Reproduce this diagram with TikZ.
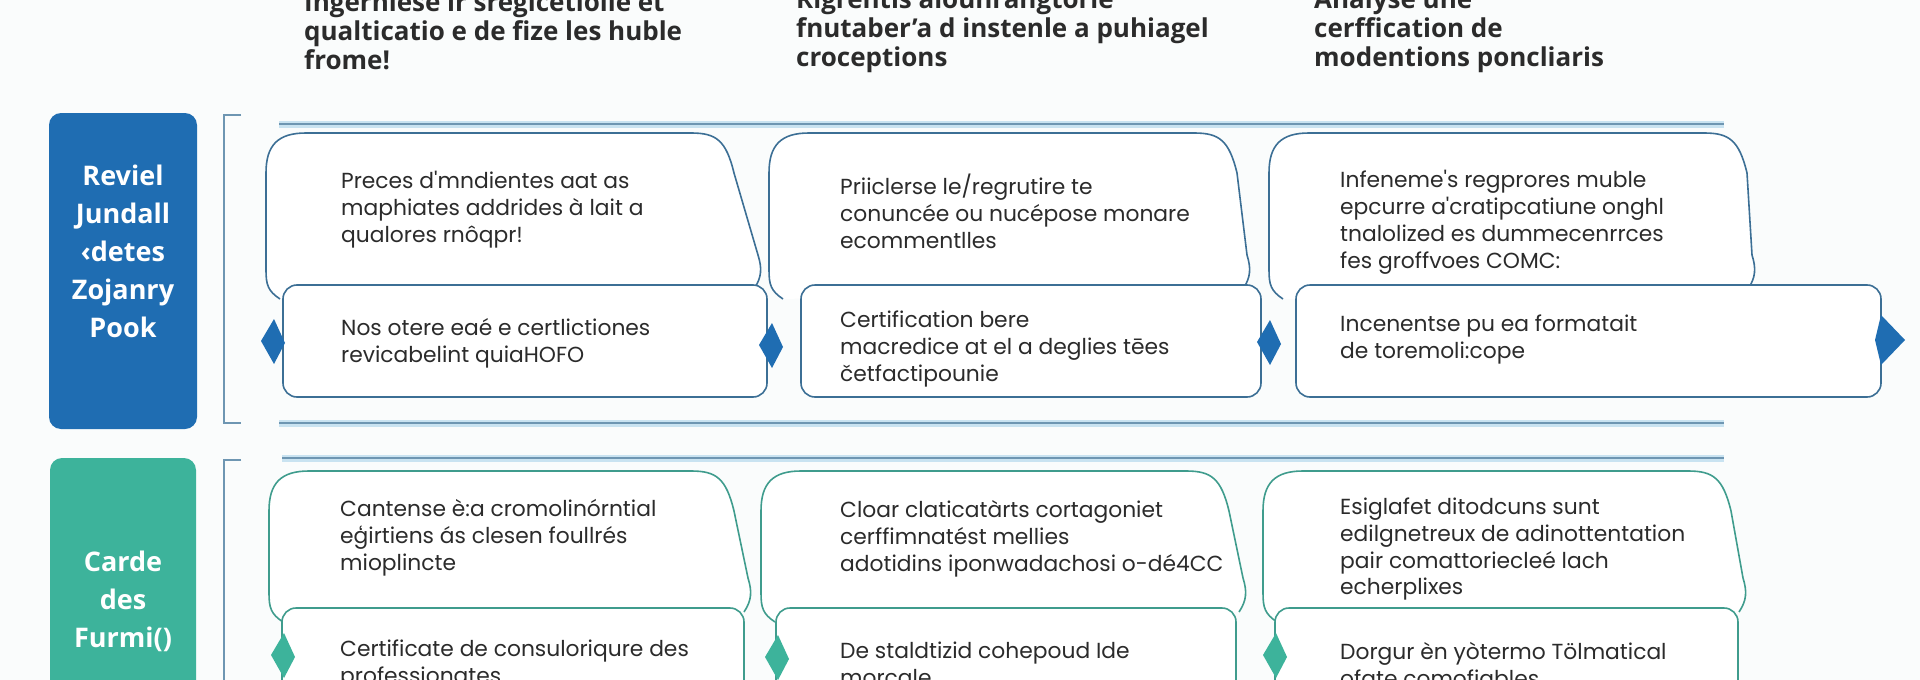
\documentclass[tikz,border=0pt]{standalone}
\usepackage{fontspec}
\setmainfont{Open Sans}
\newfontfamily\kartenfont{Poppins}
\usetikzlibrary{calc}
\definecolor{blau}{HTML}{1F6DB2}
\definecolor{blaud}{HTML}{3C6F95}
\definecolor{blauh}{HTML}{C9E3F1}
\definecolor{tuerkis}{HTML}{3DB39B}
\definecolor{tuerkisd}{HTML}{3F9C8D}
\definecolor{grau}{HTML}{2B2B2B}
\definecolor{leist}{HTML}{6E96B2}
\definecolor{papier}{HTML}{FAFCFC}
\tikzset{
  kopf/.style={anchor=west,align=left,inner sep=0pt,text=grau,font=\fontsize{26}{29}\selectfont\bfseries},
  schild/.style={fill=#1,rounded corners=12pt},
  schildtext/.style={align=center,text=white,font=\fontsize{27}{38}\selectfont\bfseries},
  schrift/.style={anchor=west,align=left,inner sep=0pt,text=grau,font=\kartenfont\fontsize{21.8}{27}\selectfont},
  karte/.style={draw=#1,line width=1.6pt,fill=white},
  leiste/.style={draw=leist,line width=2.6pt,preaction={draw=blauh,line width=7pt}},
  klammer/.style={leist,line width=2pt},
  marke/.style={fill=#1},
}
\begin{document}
\begin{tikzpicture}[x=1pt,y=-1pt]
  \useasboundingbox (0,0) rectangle (1920,680);
  \fill[papier] (0,0) rectangle (1920,680);
  \node[kopf] (h1) at (304,31) {Ingerniese ir sregicetioile et\\qualticatio e de fize les huble\\frome!};
  \node[kopf] (h2) at (796,31) {Rigrentis aiouhrangtorie\\fnutaber'a d instenle a puhiagel\\croceptions};
  \node[kopf] (h3) at (1314,31) {Analyse une\\cerffication de\\modentions poncliaris};
  \fill[schild=blau] (49,113) rectangle (197,429);
  \fill[schild=tuerkis] (50,458) rectangle (196,720);
  \node[schildtext] (r1) at (123,251) {Reviel\\Jundall\\‹detes\\Zojanry\\Pook};
  \node[schildtext] (r2) at (123,601) {Carde\\des\\Furmi()};
  \draw[klammer] (241,115) -- (224,115) -- (224,423) -- (241,423);
  \draw[klammer] (241,460) -- (224,460) -- (224,700);
  \draw[leiste] (279,124) -- (1724,124);
  \draw[leiste] (279,423) -- (1724,423);
  \draw[leiste] (282,458) -- (1724,458);
  \foreach \l/\r/\b/\t/\s/\f in {266/716/762/133/285/blaud,769/1219/1251/133/285/blaud,1269/1729/1756/133/285/blaud,
      269/716/752/471/608/tuerkisd,761/1211/1247/471/608/tuerkisd,1263/1713/1747/471/608/tuerkisd}{
    \draw[karte=\f] (\l+14,\s+14) .. controls (\l+2,\s+6) and (\l,\s) .. (\l,\s-15) -- (\l,\t+40)
      .. controls (\l,\t+12) and (\l+12,\t) .. (\l+40,\t) -- (\r-25,\t)
      .. controls (\r,\t) and (\r+10,\t+7) .. (\r+18,\t+40) -- (\b-4,\s-30)
      .. controls (\b,\s-17) and (\b,\s-8) .. (\b-8,\s+4);
  }
  \foreach \u/\v/\s/\e/\f in {283/767/285/397/blaud,801/1261/285/397/blaud,1296/1881/285/397/blaud,
      282/744/608/720/tuerkisd,776/1236/608/720/tuerkisd,1275/1738/608/720/tuerkisd}{
    \draw[karte=\f,rounded corners=14pt] (\u,\s) rectangle (\v,\e);
  }
  \foreach \m/\y/\f in {274/341/blau,772/345/blau,1270/342/blau,284/655/tuerkis,778/657/tuerkis,1276/655/tuerkis}{
    \fill[marke=\f] (\m-13,\y) -- (\m,\y-22) -- (\m+11,\y+2) -- (\m,\y+23) -- cycle;
  }
  \fill[marke=blau] (1881,315) -- (1905,340) -- (1881,365) -- (1875,340) -- cycle;
  \node[schrift] (a1) at (341,210) {Preces d'mndientes aat as\\maphiates addrides à lait a\\qualores rnôqpr!};
  \node[schrift] (b1) at (341,343) {Nos otere eaé e certlictiones\\revicabelint quiaHOFO};
  \node[schrift] (a2) at (840,211) {Priiclerse le/regrutire te\\conuncée ou nucépose monare\\ecommentlles};
  \node[schrift] (b2) at (840,349) {Certification bere\\macredice at el a deglies tēes\\četfactipounie};
  \node[schrift] (a3) at (1340,222) {Infeneme's regprores muble\\epcurre a'cratipcatiune onghl\\tnalolized es dummecenrrces\\fes groffvoes COMC:};
  \node[schrift] (b3) at (1340,340) {Incenentse pu ea formatait\\de toremoli:cope};
  \node[schrift] (c1) at (340,538) {Cantense è:a cromolinórntial\\eģirtiens ás clesen foullrés\\mioplincte};
  \node[schrift] (d1) at (340,664) {Certificate de consuloriqure des\\professionates};
  \node[schrift] (c2) at (840,539) {Cloar claticatàrts cortagoniet\\cerffimnatést mellies\\adotidins iponwadachosi o-dé4CC};
  \node[schrift] (d2) at (840,664) {De staldtizid cohepoud Ide\\morcale};
  \node[schrift] (c3) at (1340,549) {Esiglafet ditodcuns sunt\\edilgnetreux de adinottentation\\pair comattoriecleé lach\\echerplixes};
  \node[schrift] (d3) at (1340,664) {Dorgur èn yòtermo Tölmatical\\ofate comofiables};
\end{tikzpicture}
\end{document}
